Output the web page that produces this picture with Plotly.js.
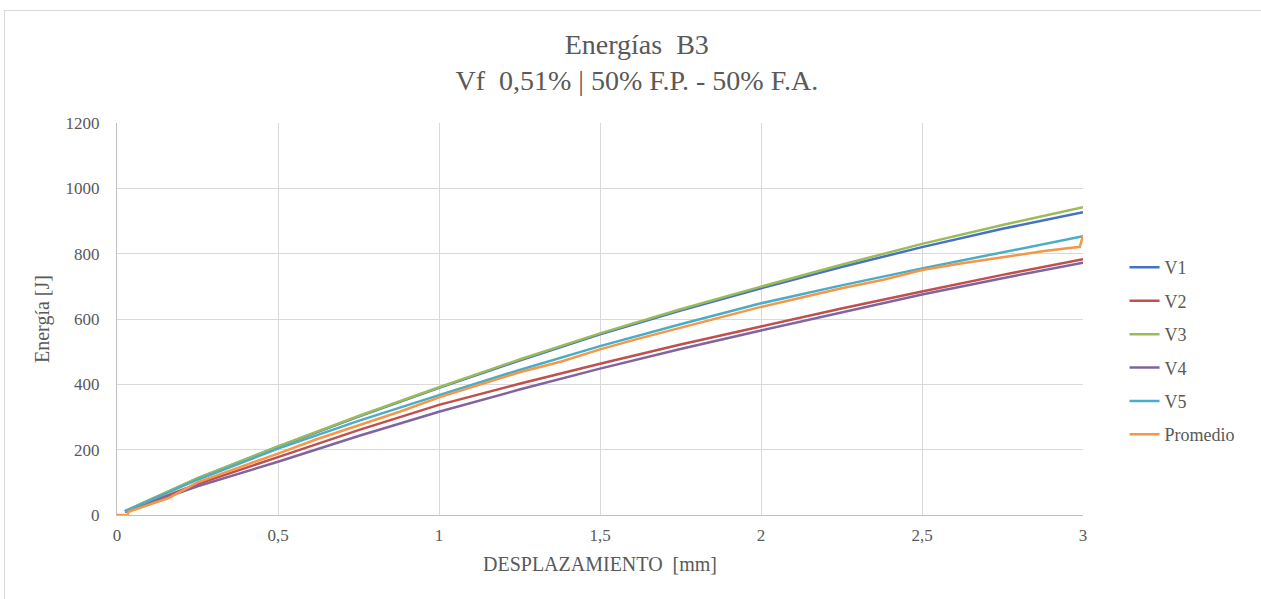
<!DOCTYPE html>
<html>
<head>
<meta charset="utf-8">
<script src="https://cdn.plot.ly/plotly-3.0.1.min.js"></script>
<style>
  html, body { margin: 0; padding: 0; background: #ffffff; }
  #frame { position: absolute; left: 4px; top: 10px; width: 1300px; height: 640px; border: 1px solid #d9d9d9; box-sizing: border-box; pointer-events: none; z-index: 2; }
  #chart { position: absolute; left: 0; top: 0; width: 1261px; height: 599px; }
</style>
</head>
<body>
<div id="chart"></div>
<div id="frame"></div>
<script>
// Displacement [mm] and energy [J] values
const xCommon = [0.025, 0.25, 0.5, 0.75, 1, 1.25, 1.5, 1.75, 2, 2.25, 2.5, 2.75, 3];
const v1 = [12, 112, 209, 301, 389, 473, 553, 626, 694, 759, 820, 876, 927];
const v2 = [10, 95, 177, 260, 337, 402, 463, 522, 577, 632, 684, 735, 783];
const v3 = [12, 113, 210, 303, 391, 476, 556, 630, 699, 766, 830, 888, 942];
const v4 = [10, 88, 163, 242, 316, 384, 448, 508, 565, 621, 675, 725, 772];
const v5 = [11, 108, 203, 288, 367, 444, 517, 584, 648, 703, 755, 805, 853];
const xProm = [0, 0.033, 0.036, 0.07, 0.12, 0.16, 0.25, 0.38, 0.5, 0.62, 0.75, 0.88, 1, 1.12, 1.25, 1.38, 1.5, 1.62, 1.75, 1.88, 2, 2.12, 2.25, 2.38, 2.5, 2.62, 2.75, 2.88, 2.99, 3];
const prom = [0, 0, 10, 21, 37, 52, 100, 145, 188, 232, 275, 317, 360, 396, 437, 470, 507, 540, 573, 606, 637, 664, 694, 720, 750, 770, 790, 808, 821, 855];

const names = ['V1', 'V2', 'V3', 'V4', 'V5', 'Promedio'];
const colors = ['#4472C4', '#C0504D', '#9BBB59', '#8064A2', '#4BACC6', '#F79646'];
const seriesX = [xCommon, xCommon, xCommon, xCommon, xCommon, xProm];
const seriesY = [v1, v2, v3, v4, v5, prom];

const xTicks = [0, 0.5, 1, 1.5, 2, 2.5, 3];
const xTickText = ['0', '0,5', '1', '1,5', '2', '2,5', '3'];
const yTicks = [0, 200, 400, 600, 800, 1000, 1200];

const traces = names.map((n, i) => ({
  type: 'scatter', mode: 'lines', name: n,
  x: seriesX[i], y: seriesY[i],
  line: { color: colors[i], width: 2.5 },
  legendgroup: n
}));

const fontFam = 'Liberation Serif';
const layout = {
  width: 1261, height: 599,
  paper_bgcolor: '#ffffff', plot_bgcolor: '#ffffff',
  margin: { l: 117, r: 178, t: 123, b: 84 },
  font: { family: fontFam, color: '#595959' },
  title: {
    text: 'Energías  B3<br>Vf  0,51% | 50% F.P. - 50% F.A.',
    font: { family: fontFam, size: 28, color: '#595959' },
    xref: 'container', x: 0.505, xanchor: 'center',
    yref: 'container', y: 0.91, yanchor: 'top'
  },
  xaxis: {
    range: [0, 3], tickvals: xTicks, ticktext: xTickText,
    showgrid: true, gridcolor: '#d9d9d9', gridwidth: 1,
    showline: true, linecolor: '#bfbfbf', linewidth: 1,
    zeroline: false, ticks: 'outside', ticklen: 5, tickcolor: 'rgba(0,0,0,0)',
    tickfont: { family: fontFam, size: 17, color: '#595959' },
    title: { text: 'DESPLAZAMIENTO  [mm]', font: { family: fontFam, size: 20, color: '#595959' }, standoff: 12 }
  },
  yaxis: {
    range: [0, 1200], tickvals: yTicks,
    showgrid: true, gridcolor: '#d9d9d9', gridwidth: 1,
    showline: true, linecolor: '#bfbfbf', linewidth: 1,
    zeroline: false, ticks: 'outside', ticklen: 13, tickcolor: 'rgba(0,0,0,0)',
    tickfont: { family: fontFam, size: 17, color: '#595959' },
    title: { text: 'Energía [J]', font: { family: fontFam, size: 20, color: '#595959' }, standoff: 10 }
  },
  showlegend: true,
  legend: {
    x: 1.043, xanchor: 'left', y: 0.418, yanchor: 'middle',
    font: { family: fontFam, size: 18, color: '#595959' },
    traceorder: 'grouped', tracegroupgap: 7,
    bgcolor: 'rgba(0,0,0,0)'
  }
};

Plotly.newPlot('chart', traces, layout, { displayModeBar: false, staticPlot: true });
</script>
</body>
</html>
